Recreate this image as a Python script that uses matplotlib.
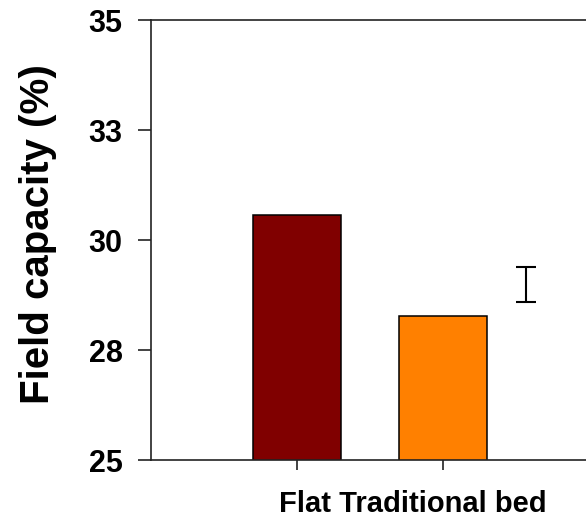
import matplotlib
matplotlib.use('Agg')
import matplotlib.pyplot as plt

# values
treatments = ['Flat', 'Traditional bed']
field_capacity = [30.58, 28.28]
bar_colors = ['#800000', '#FF8000']
lsd_center = 28.99
lsd_half = 0.39
yticks = [25, 27.5, 30, 32.5, 35]
ytick_labels = ['25', '28', '30', '33', '35']

plt.rcParams['font.family'] = ['Liberation Sans', 'DejaVu Sans']
plt.rcParams['font.weight'] = 'bold'

W, H = 586, 519
fig = plt.figure(figsize=(W / 100, H / 100), dpi=100)

ax_left, ax_bottom, ax_top = 151, 460, 20.5
ax_w = 452.6
ax = fig.add_axes([ax_left / W, 1 - ax_bottom / H, ax_w / W, (ax_bottom - ax_top) / H])

x = [1, 2]
ax.bar(x, field_capacity, width=0.605, color=bar_colors,
       edgecolor='black', linewidth=1.1, zorder=2)
ax.errorbar([2.57], [lsd_center], yerr=[lsd_half], fmt='none',
            ecolor='black', elinewidth=1.5, capsize=7, capthick=1.5, zorder=3)

ax.set_xlim(0, 3.1)
ax.set_ylim(25, 35)
ax.set_yticks(yticks)
ax.set_yticklabels(ytick_labels)
ax.set_xticks(x)
ax.set_xticklabels(['', ''])

for side in ['left', 'bottom', 'top', 'right']:
    ax.spines[side].set_color('#222222')
    ax.spines[side].set_linewidth(1.2)

ax.tick_params(axis='y', direction='out', length=9.5, width=1.2,
               color='#222222', labelsize=22, pad=11)
ax.tick_params(axis='x', direction='out', length=7, width=1.2,
               color='#222222', labelsize=20)

ax.set_ylabel('Field capacity (%)', fontsize=29, fontweight='bold', va='center')
ax.yaxis.set_label_coords((38 - ax_left) / ax_w, (ax_bottom - 234) / (ax_bottom - ax_top))

ax.set_xlabel(' '.join(treatments), fontsize=21, fontweight='bold', va='baseline')
ax.xaxis.set_label_coords((413 - ax_left) / ax_w, -(512 - ax_bottom) / (ax_bottom - ax_top))

fig.savefig('out.png', dpi=100)
